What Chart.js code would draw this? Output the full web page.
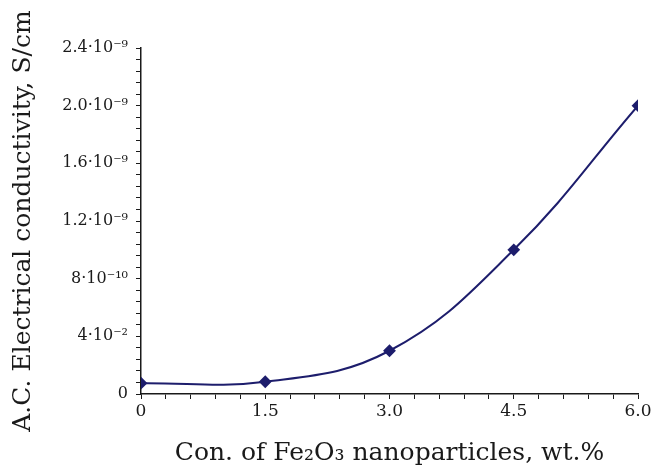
<!DOCTYPE html>
<html>
<head>
<meta charset="utf-8">
<script src="https://cdn.jsdelivr.net/npm/chart.js@4"></script>
<style>
  html, body { margin: 0; padding: 0; background: #ffffff; }
  #wrap { width: 660px; height: 470px; }
</style>
</head>
<body>
<div id="wrap"><canvas id="condChart" width="660" height="470"></canvas></div>
<script>
// Dữ liệu
const concentrations = [0, 1.5, 3.0, 4.5, 6.0];
const conductivity = [0.75e-10, 0.85e-10, 3.0e-10, 1.0e-9, 2.0e-9];

const xTickLabels = ['0', '1.5', '3.0', '4.5', '6.0'];
const yTickLabels = ['0', '4·10⁻²', '8·10⁻¹⁰', '1.2·10⁻⁹', '1.6·10⁻⁹', '2.0·10⁻⁹', '2.4·10⁻⁹'];

const X_MAX = 6.0;
const Y_MAX = 2.4e-9;
const MINOR_PER_MAJOR = 5;

const INK = '#1a1a1a';
const LINE = '#1d1d6c';
const FONT = "'DejaVu Serif', 'Liberation Serif', serif";

// tạo vạch chia phụ (minor ticks) cho trục
function minorTicks(max, majorCount) {
    const n = (majorCount - 1) * MINOR_PER_MAJOR;
    const ticks = [];
    for (let i = 0; i <= n; i++) ticks.push({ value: max * i / n });
    return ticks;
}

const ctx = document.getElementById('condChart').getContext('2d');
new Chart(ctx, {
    type: 'line',
    data: {
        datasets: [{
            data: concentrations.map((x, i) => ({ x: x, y: conductivity[i] })),
            borderColor: LINE,
            backgroundColor: LINE,
            borderWidth: 2,
            tension: 0.4,
            pointStyle: 'rectRot',
            pointRadius: 5,
            pointHoverRadius: 5,
            fill: false
        }]
    },
    options: {
        responsive: false,
        animation: false,
        events: [],
        layout: { padding: { left: 8, top: 48, right: 22, bottom: 2 } },
        plugins: {
            legend: { display: false },
            tooltip: { enabled: false }
        },
        scales: {
            x: {
                type: 'linear',
                min: 0,
                max: X_MAX,
                afterBuildTicks: s => { s.ticks = minorTicks(X_MAX, xTickLabels.length); },
                afterFit: s => { s.height = 74; },
                border: { color: INK, width: 1.5 },
                grid: { drawOnChartArea: false, drawTicks: true, tickLength: 5, color: INK, tickWidth: 1 },
                ticks: {
                    autoSkip: false,
                    maxRotation: 0,
                    padding: 2,
                    color: INK,
                    font: { family: FONT, size: 17 },
                    callback: (v, i) => i % MINOR_PER_MAJOR === 0 ? xTickLabels[i / MINOR_PER_MAJOR] : ''
                },
                title: {
                    display: true,
                    text: 'Con. of Fe₂O₃ nanoparticles, wt.%',
                    color: INK,
                    font: { family: FONT, size: 25 },
                    padding: { top: 10, bottom: 0 }
                }
            },
            y: {
                type: 'linear',
                min: 0,
                max: Y_MAX,
                afterBuildTicks: s => { s.ticks = minorTicks(Y_MAX, yTickLabels.length); },
                afterFit: s => { s.width = 133; },
                border: { color: INK, width: 1.5 },
                grid: { drawOnChartArea: false, drawTicks: true, tickLength: 5, color: INK, tickWidth: 1 },
                ticks: {
                    autoSkip: false,
                    padding: 8,
                    color: INK,
                    font: { family: FONT, size: 16 },
                    callback: (v, i) => i % MINOR_PER_MAJOR === 0 ? yTickLabels[i / MINOR_PER_MAJOR] : ''
                },
                title: {
                    display: true,
                    text: 'A.C. Electrical conductivity, S/cm',
                    color: INK,
                    font: { family: FONT, size: 25 },
                    padding: { top: 0, bottom: 8 }
                }
            }
        }
    }
});
</script>
</body>
</html>
